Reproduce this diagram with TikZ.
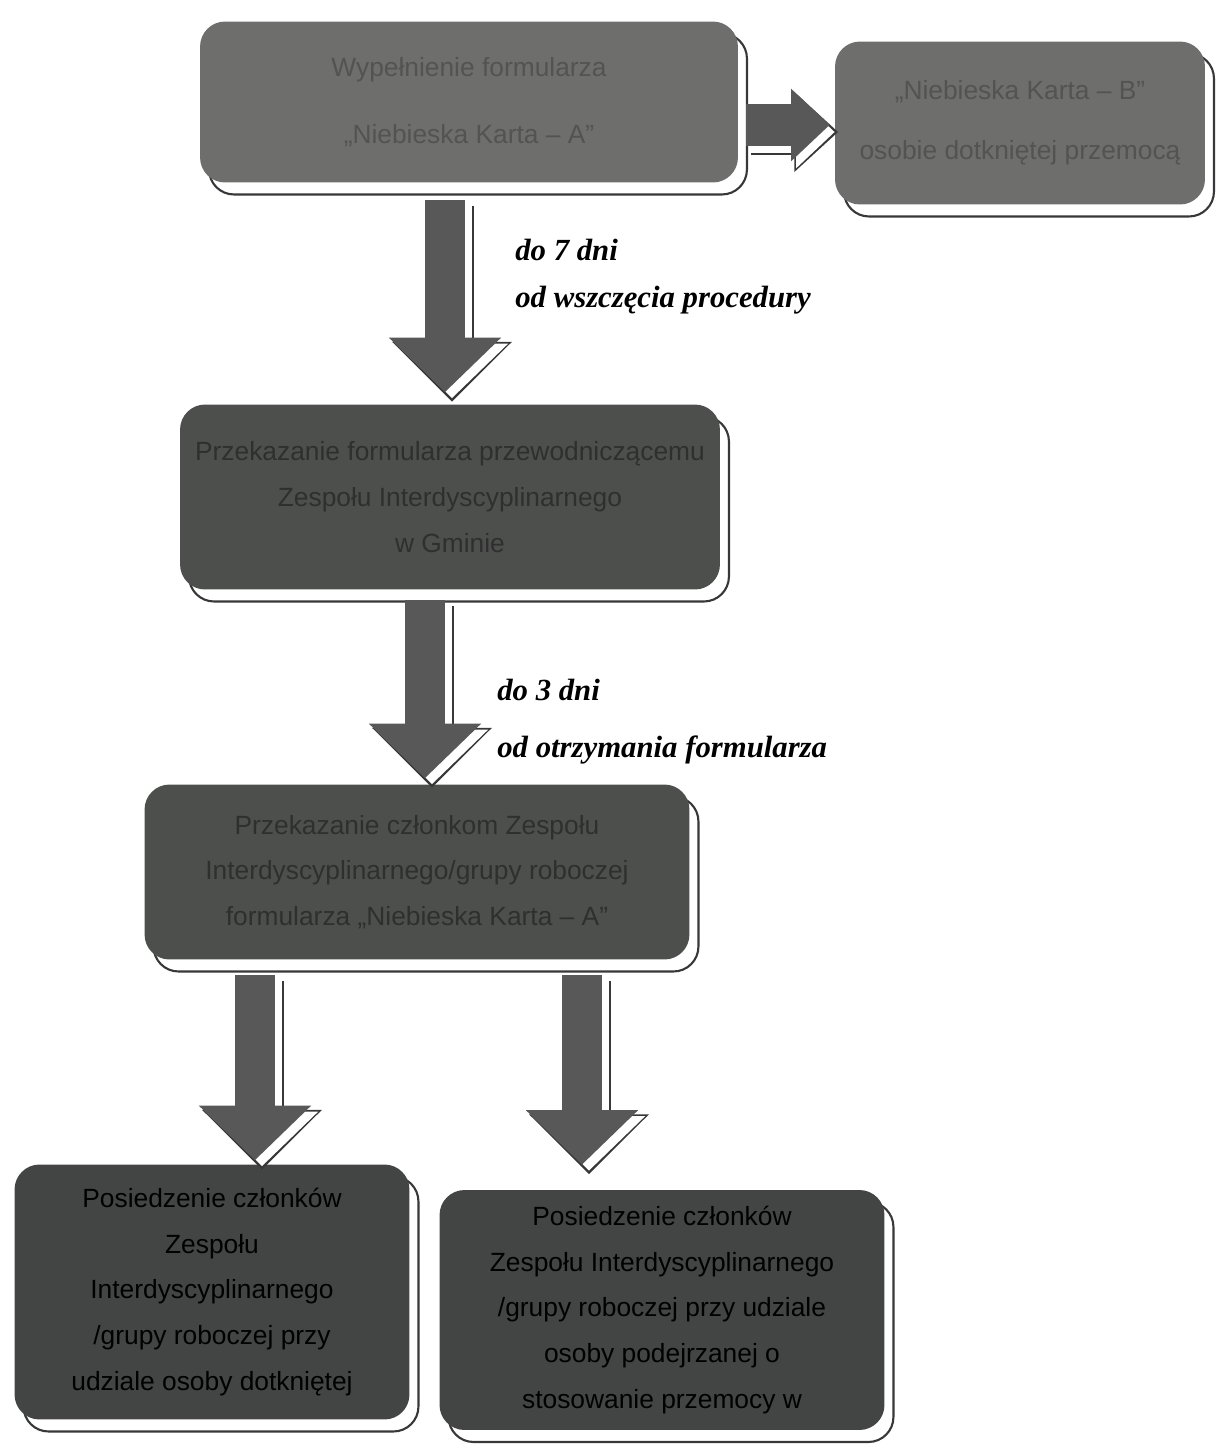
\documentclass[tikz,border=0pt]{standalone}
\usepackage{fontspec}
\setmainfont{Liberation Serif}
\setsansfont{Liberation Sans}
\usetikzlibrary{arrows.meta,calc,shadows}
\definecolor{boxlight}{HTML}{6E6F6D}
\definecolor{boxdark}{HTML}{4D4F4D}
\definecolor{boxdeep}{HTML}{434544}
\definecolor{arrowgray}{HTML}{575857}
\definecolor{rimgray}{HTML}{383838}

\begin{document}
\begin{tikzpicture}[x=0.02cm,y=-0.02cm]
\tikzstyle{stage}=[rounded corners=0.5cm, align=center, inner sep=4pt,
  font=\sffamily\fontsize{15}{26}\selectfont,
  general shadow={fill=white, draw=rimgray, line width=1.2pt, shadow xshift=0.18cm, shadow yshift=-0.24cm}]
\tikzstyle{palebox}=[stage, fill=boxlight, text=boxlight!75!black]
\tikzstyle{dimbox}=[stage, fill=boxdark, text=boxdark!60!black]
\tikzstyle{deepbox}=[stage, fill=boxdeep, text=black]
\tikzstyle{term}=[anchor=west, inner sep=0pt, font=\bfseries\itshape\fontsize{17.5}{20}\selectfont]
\tikzstyle{fatrim}=[line width=25pt, draw=rimgray, -{Triangle[width=66pt,length=34pt]}, shorten >=-2pt]
\tikzstyle{fatgap}=[line width=23pt, draw=white, -{Triangle[width=62pt,length=31pt]}]
\tikzstyle{fat}=[line width=23pt, draw=arrowgray, -{Triangle[width=62pt,length=31pt]}]
\useasboundingbox (0,0) rectangle (1225,1455);

\node[palebox, minimum width=10.76cm, minimum height=3.22cm] (fill) at (469,102)
  {Wypełnienie formularza\\[12pt]„Niebieska Karta – A”};
\node[palebox, minimum width=7.4cm, minimum height=3.26cm] (cardb) at (1020,123)
  {„Niebieska Karta – B”\\[8pt]osobie dotkniętej przemocą};
\node[dimbox, minimum width=10.8cm, minimum height=3.7cm] (chair) at (450,497)
  {Przekazanie formularza przewodniczącemu\\Zespołu Interdyscyplinarnego\\w Gminie};
\node[dimbox, minimum width=10.9cm, minimum height=3.5cm] (members) at (417,872)
  {Przekazanie członkom Zespołu\\Interdyscyplinarnego/grupy roboczej\\formularza „Niebieska Karta – A”};
\node[deepbox, minimum width=7.9cm, minimum height=5.1cm] (victim) at (212,1292)
  {Posiedzenie członków\\Zespołu\\Interdyscyplinarnego\\/grupy roboczej przy\\udziale osoby dotkniętej};
\node[deepbox, minimum width=8.9cm, minimum height=4.8cm] (suspect) at (662,1310)
  {Posiedzenie członków\\Zespołu Interdyscyplinarnego\\/grupy roboczej przy udziale\\osoby podejrzanej o\\stosowanie przemocy w};

\coordinate (s1) at ($(fill.south)+(-24,17)$);
\coordinate (e1) at ($(chair.north)+(-5,-12)$);
\coordinate (s2) at ($(chair.south)+(-25,10)$);
\coordinate (e2) at ($(members.north)+(8,-6)$);
\coordinate (s3) at ($(members.south)+(-162,15)$);
\coordinate (e3) at ($(victim.north)+(43,-4)$);
\coordinate (s4) at ($(members.south)+(165,15)$);
\coordinate (e4) at ($(suspect.north)+(-80,-25)$);
\foreach \s/\e in {s1/e1,s2/e2,s3/e3,s4/e4}{
  \draw[fatrim] ($(\s)+(7,6)$) -- ($(\e)+(7,6)$);
  \draw[fatgap] ($(\s)+(7,6)$) -- ($(\e)+(7,6)$);
  \draw[fat] (\s) -- (\e);
}

\coordinate (s5) at ($(fill.east)+(8,23)$);
\coordinate (e5) at ($(cardb.west)+(-5,2)$);
\draw[line width=26pt, draw=rimgray, -{Triangle[width=44pt,length=25pt]}, shorten >=-2pt] ($(s5)+(5,7)$) -- ($(e5)+(5,7)$);
\draw[line width=24pt, draw=white, -{Triangle[width=40pt,length=22pt]}] ($(s5)+(5,7)$) -- ($(e5)+(5,7)$);
\draw[line width=24pt, draw=arrowgray, -{Triangle[width=40pt,length=22pt]}] (s5) -- (e5);

\node[term] (t7) at (515,250) {do 7 dni};
\node[term] (t7b) at (515,300) {od wszczęcia procedury};
\node[term] (t3) at (497,690) {do 3 dni};
\node[term] (t3b) at (497,750) {od otrzymania formularza};
\end{tikzpicture}
\end{document}
